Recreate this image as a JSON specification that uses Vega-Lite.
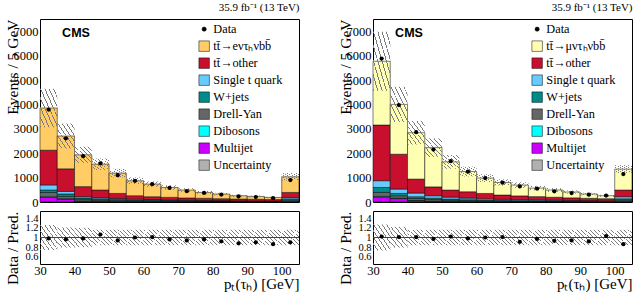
{
  "$schema": "https://vega.github.io/schema/vega-lite/v6.json",
  "bounds": "flush",
  "padding": {"left": 4, "top": 1, "right": 0, "bottom": 0},
  "background": "white",
  "columns": 2,
  "spacing": {"row": 9, "column": 74},
  "datasets": {
    "e": [
      {"lo":30,"hi":35,"mid":32.5,"mj":190,"vv":25,"dy":175,"wj":100,"st":210,"tto":1422,"sig":1729,"data":3786,"blo":3062,"bhi":4640,"ratio":0.98,"rlo":0.74,"rhi":1.26},
      {"lo":35,"hi":40,"mid":37.5,"mj":120,"vv":15,"dy":95,"wj":100,"st":105,"tto":925,"sig":1343,"data":2610,"blo":2189,"bhi":3217,"ratio":0.96,"rlo":0.79,"rhi":1.21},
      {"lo":40,"hi":45,"mid":42.5,"mj":35,"vv":10,"dy":65,"wj":55,"st":55,"tto":410,"sig":1303,"data":1880,"blo":1604,"bhi":2262,"ratio":0.98,"rlo":0.8,"rhi":1.2},
      {"lo":45,"hi":50,"mid":47.5,"mj":20,"vv":8,"dy":55,"wj":50,"st":47,"tto":310,"sig":1061,"data":1580,"blo":1318,"bhi":1784,"ratio":1.06,"rlo":0.84,"rhi":1.16},
      {"lo":50,"hi":55,"mid":52.5,"mj":15,"vv":7,"dy":45,"wj":40,"st":40,"tto":204,"sig":833,"data":1100,"blo":1006,"bhi":1362,"ratio":0.94,"rlo":0.84,"rhi":1.16},
      {"lo":55,"hi":60,"mid":57.5,"mj":10,"vv":6,"dy":35,"wj":35,"st":34,"tto":137,"sig":612,"data":866,"blo":739,"bhi":999,"ratio":1.0,"rlo":0.84,"rhi":1.16},
      {"lo":60,"hi":65,"mid":62.5,"mj":8,"vv":5,"dy":30,"wj":30,"st":27,"tto":116,"sig":518,"data":730,"blo":624,"bhi":844,"ratio":1.01,"rlo":0.84,"rhi":1.16},
      {"lo":65,"hi":70,"mid":67.5,"mj":6,"vv":5,"dy":25,"wj":25,"st":24,"tto":105,"sig":406,"data":575,"blo":507,"bhi":685,"ratio":0.96,"rlo":0.84,"rhi":1.16},
      {"lo":70,"hi":75,"mid":72.5,"mj":5,"vv":4,"dy":22,"wj":22,"st":22,"tto":90,"sig":325,"data":445,"blo":416,"bhi":564,"ratio":0.94,"rlo":0.84,"rhi":1.16},
      {"lo":75,"hi":80,"mid":77.5,"mj":4,"vv":4,"dy":19,"wj":19,"st":19,"tto":85,"sig":242,"data":372,"blo":333,"bhi":451,"ratio":0.96,"rlo":0.84,"rhi":1.16},
      {"lo":80,"hi":85,"mid":82.5,"mj":3,"vv":3,"dy":17,"wj":17,"st":18,"tto":77,"sig":192,"data":305,"blo":278,"bhi":376,"ratio":0.92,"rlo":0.84,"rhi":1.16},
      {"lo":85,"hi":90,"mid":87.5,"mj":3,"vv":3,"dy":15,"wj":14,"st":15,"tto":70,"sig":137,"data":228,"blo":218,"bhi":296,"ratio":0.88,"rlo":0.84,"rhi":1.16},
      {"lo":90,"hi":95,"mid":92.5,"mj":2,"vv":3,"dy":13,"wj":13,"st":14,"tto":65,"sig":119,"data":205,"blo":195,"bhi":263,"ratio":0.9,"rlo":0.84,"rhi":1.16},
      {"lo":95,"hi":100,"mid":97.5,"mj":2,"vv":2,"dy":12,"wj":12,"st":12,"tto":60,"sig":88,"data":158,"blo":160,"bhi":216,"ratio":0.86,"rlo":0.84,"rhi":1.16},
      {"lo":100,"hi":105,"mid":102.5,"mj":10,"vv":10,"dy":50,"wj":60,"st":58,"tto":204,"sig":641,"data":900,"blo":878,"bhi":1188,"ratio":0.9,"rlo":0.84,"rhi":1.16}
    ],
    "mu": [
      {"lo":30,"hi":35,"mid":32.5,"mj":200,"vv":30,"dy":162,"wj":204,"st":277,"tto":2282,"sig":2612,"data":5877,"blo":4556,"bhi":6978,"ratio":1.02,"rlo":0.73,"rhi":1.27},
      {"lo":35,"hi":40,"mid":37.5,"mj":140,"vv":15,"dy":102,"wj":94,"st":180,"tto":1428,"sig":2041,"data":3971,"blo":3280,"bhi":4720,"ratio":1.01,"rlo":0.79,"rhi":1.22},
      {"lo":40,"hi":45,"mid":42.5,"mj":50,"vv":12,"dy":80,"wj":75,"st":150,"tto":572,"sig":1902,"data":2860,"blo":2358,"bhi":3324,"ratio":1.01,"rlo":0.84,"rhi":1.16},
      {"lo":45,"hi":50,"mid":47.5,"mj":25,"vv":10,"dy":65,"wj":57,"st":100,"tto":363,"sig":1609,"data":2150,"blo":1850,"bhi":2608,"ratio":0.97,"rlo":0.84,"rhi":1.16},
      {"lo":50,"hi":55,"mid":52.5,"mj":15,"vv":8,"dy":50,"wj":47,"st":80,"tto":290,"sig":1155,"data":1673,"blo":1365,"bhi":1925,"ratio":1.02,"rlo":0.84,"rhi":1.16},
      {"lo":55,"hi":60,"mid":57.5,"mj":10,"vv":7,"dy":40,"wj":38,"st":65,"tto":260,"sig":829,"data":1240,"blo":1049,"bhi":1449,"ratio":0.98,"rlo":0.84,"rhi":1.16},
      {"lo":60,"hi":65,"mid":62.5,"mj":8,"vv":6,"dy":33,"wj":30,"st":53,"tto":221,"sig":629,"data":980,"blo":823,"bhi":1137,"ratio":1.0,"rlo":0.84,"rhi":1.16},
      {"lo":65,"hi":70,"mid":67.5,"mj":6,"vv":5,"dy":28,"wj":26,"st":45,"tto":176,"sig":514,"data":790,"blo":672,"bhi":928,"ratio":1.01,"rlo":0.84,"rhi":1.16},
      {"lo":70,"hi":75,"mid":72.5,"mj":5,"vv":4,"dy":24,"wj":22,"st":40,"tto":155,"sig":444,"data":637,"blo":583,"bhi":805,"ratio":0.91,"rlo":0.84,"rhi":1.16},
      {"lo":75,"hi":80,"mid":77.5,"mj":4,"vv":4,"dy":21,"wj":20,"st":36,"tto":135,"sig":351,"data":550,"blo":480,"bhi":662,"ratio":0.97,"rlo":0.84,"rhi":1.16},
      {"lo":80,"hi":85,"mid":82.5,"mj":3,"vv":3,"dy":19,"wj":18,"st":32,"tto":120,"sig":295,"data":440,"blo":412,"bhi":568,"ratio":0.93,"rlo":0.84,"rhi":1.16},
      {"lo":85,"hi":90,"mid":87.5,"mj":3,"vv":3,"dy":16,"wj":15,"st":28,"tto":105,"sig":238,"data":365,"blo":343,"bhi":473,"ratio":0.94,"rlo":0.84,"rhi":1.16},
      {"lo":90,"hi":95,"mid":92.5,"mj":2,"vv":3,"dy":14,"wj":14,"st":25,"tto":92,"sig":177,"data":300,"blo":275,"bhi":379,"ratio":0.92,"rlo":0.84,"rhi":1.16},
      {"lo":95,"hi":100,"mid":97.5,"mj":2,"vv":2,"dy":12,"wj":12,"st":22,"tto":85,"sig":122,"data":265,"blo":216,"bhi":298,"ratio":1.03,"rlo":0.84,"rhi":1.16},
      {"lo":100,"hi":105,"mid":102.5,"mj":10,"vv":10,"dy":55,"wj":55,"st":86,"tto":274,"sig":857,"data":1143,"blo":1185,"bhi":1509,"ratio":0.86,"rlo":0.84,"rhi":1.16}
    ]
  },
  "resolve": {"scale": {"color": "independent"}},
  "concat": [
    {
      "width": 259, "height": 183,
      "title": {"text": "35.9 fb⁻¹ (13 TeV)", "anchor": "end", "fontSize": 11, "font": "Liberation Serif", "fontWeight": "normal", "offset": 2, "color": "black"},
      "data": {"name": "e"},
      "resolve": {"axis": {"x": "independent", "y": "independent"}},
      "layer": [
        {
          "transform": [
            {"fold": ["mj","vv","dy","wj","st","tto","sig"], "as": ["proc","n"]},
            {"stack": "n", "groupby": ["lo"], "as": ["s0","s1"]}
          ],
          "mark": {"type": "rect", "stroke": "black", "strokeWidth": 0.5},
          "encoding": {
            "x": {"field": "lo", "type": "quantitative", "scale": {"domain": [30,105], "nice": false, "zero": false},
                  "axis": {"orient": "bottom", "values": [30,32,34,36,38,40,42,44,46,48,50,52,54,56,58,60,62,64,66,68,70,72,74,76,78,80,82,84,86,88,90,92,94,96,98,100,102,104], "labels": false, "title": null,
                           "encode": {"ticks": {"update": {"y2": {"signal": "datum.value % 10 === 0 ? -6 : -3"}}}}}},
            "x2": {"field": "hi"},
            "y": {"field": "s0", "type": "quantitative", "scale": {"domain": [0,7500], "nice": false},
                  "axis": {"orient": "left", "values": [0,200,400,600,800,1000,1200,1400,1600,1800,2000,2200,2400,2600,2800,3000,3200,3400,3600,3800,4000,4200,4400,4600,4800,5000,5200,5400,5600,5800,6000,6200,6400,6600,6800,7000,7200,7400],
                           "format": "d", "labelExpr": "datum.value % 1000 === 0 ? datum.label : ''", "labelOverlap": false, "labelPadding": 2,
                           "title": "Events / 5 GeV", "titleAnchor": "end", "titlePadding": -7,
                           "encode": {"ticks": {"update": {"x2": {"signal": "datum.value % 1000 === 0 ? 6 : 3"}}}}}},
            "y2": {"field": "s1"},
            "color": {"field": "proc", "type": "nominal",
                      "scale": {"domain": ["data","sig","tto","st","wj","dy","vv","mj","unc"], "range": ["black","#ffcc66","#c8102e","#66ccff","#008b8b","#666666","#00ffff","#cc00ff","#b0b0b0"]},
                      "legend": {"orient": "none", "legendX": 158, "legendY": 4, "title": null, "symbolType": "square", "symbolSize": 110, "symbolStrokeColor": "black", "symbolStrokeWidth": 0.5, "symbolOpacity": 1,
                                 "labelFont": "Liberation Serif", "labelFontSize": 12.3, "labelColor": "black", "rowPadding": 3, "labelOffset": 3, "padding": 0, "labelLimit": 200,
                                 "labelExpr": "datum.label === 'data' ? 'Data' : datum.label === 'sig' ? 'tt̄→eντₕνbb̄' : datum.label === 'tto' ? 'tt̄→other' : datum.label === 'st' ? 'Single t quark' : datum.label === 'wj' ? 'W+jets' : datum.label === 'dy' ? 'Drell-Yan' : datum.label === 'vv' ? 'Dibosons' : datum.label === 'mj' ? 'Multijet' : 'Uncertainty'",
                                 "encode": {"symbols": {"update": {
                                   "shape": {"signal": "datum.value === 'data' ? 'circle' : 'square'"},
                                   "size": {"signal": "datum.value === 'data' ? 18 : 110"}
                                 }}}}}
          }
        },
        {
          "mark": {"type": "rect", "fill": {"gradient": "linear", "x1": 0, "y1": 1, "x2": 1, "y2": 0, "stops": [
            {"offset": 0, "color": "#7a7a7a"}, {"offset": 0.028, "color": "#7a7a7a"}, {"offset": 0.028, "color": "rgba(255,255,255,0)"}, {"offset": 0.125, "color": "rgba(255,255,255,0)"},
            {"offset": 0.125, "color": "#7a7a7a"}, {"offset": 0.153, "color": "#7a7a7a"}, {"offset": 0.153, "color": "rgba(255,255,255,0)"}, {"offset": 0.25, "color": "rgba(255,255,255,0)"},
            {"offset": 0.25, "color": "#7a7a7a"}, {"offset": 0.278, "color": "#7a7a7a"}, {"offset": 0.278, "color": "rgba(255,255,255,0)"}, {"offset": 0.375, "color": "rgba(255,255,255,0)"},
            {"offset": 0.375, "color": "#7a7a7a"}, {"offset": 0.403, "color": "#7a7a7a"}, {"offset": 0.403, "color": "rgba(255,255,255,0)"}, {"offset": 0.5, "color": "rgba(255,255,255,0)"},
            {"offset": 0.5, "color": "#7a7a7a"}, {"offset": 0.528, "color": "#7a7a7a"}, {"offset": 0.528, "color": "rgba(255,255,255,0)"}, {"offset": 0.625, "color": "rgba(255,255,255,0)"},
            {"offset": 0.625, "color": "#7a7a7a"}, {"offset": 0.653, "color": "#7a7a7a"}, {"offset": 0.653, "color": "rgba(255,255,255,0)"}, {"offset": 0.75, "color": "rgba(255,255,255,0)"},
            {"offset": 0.75, "color": "#7a7a7a"}, {"offset": 0.778, "color": "#7a7a7a"}, {"offset": 0.778, "color": "rgba(255,255,255,0)"}, {"offset": 0.875, "color": "rgba(255,255,255,0)"},
            {"offset": 0.875, "color": "#7a7a7a"}, {"offset": 0.903, "color": "#7a7a7a"}, {"offset": 0.903, "color": "rgba(255,255,255,0)"}, {"offset": 1, "color": "rgba(255,255,255,0)"}]}},
          "encoding": {
            "x": {"field": "lo", "type": "quantitative",
                  "axis": {"orient": "top", "values": [30,32,34,36,38,40,42,44,46,48,50,52,54,56,58,60,62,64,66,68,70,72,74,76,78,80,82,84,86,88,90,92,94,96,98,100,102,104], "labels": false, "title": null,
                           "encode": {"ticks": {"update": {"y2": {"signal": "datum.value % 10 === 0 ? 6 : 3"}}}}}},
            "x2": {"field": "hi"},
            "y": {"field": "blo", "type": "quantitative",
                  "axis": {"orient": "right", "values": [0,200,400,600,800,1000,1200,1400,1600,1800,2000,2200,2400,2600,2800,3000,3200,3400,3600,3800,4000,4200,4400,4600,4800,5000,5200,5400,5600,5800,6000,6200,6400,6600,6800,7000,7200,7400], "labels": false, "title": null,
                           "encode": {"ticks": {"update": {"x2": {"signal": "datum.value % 1000 === 0 ? -6 : -3"}}}}}},
            "y2": {"field": "bhi"}
          }
        },
        {
          "mark": {"type": "circle", "size": 18, "color": "black", "opacity": 1},
          "encoding": {
            "x": {"field": "mid", "type": "quantitative", "axis": null},
            "y": {"field": "data", "type": "quantitative", "axis": null}
          }
        },
        {
          "data": {"values": [{}]},
          "mark": {"type": "text", "text": "CMS", "font": "Liberation Sans", "fontWeight": "bold", "fontSize": 12.5, "align": "left", "baseline": "middle", "color": "black"},
          "encoding": {
            "x": {"datum": 36.4, "type": "quantitative", "axis": null},
            "y": {"datum": 6926, "type": "quantitative", "axis": null}
          }
        }
      ]
    },
    {
      "width": 259, "height": 183,
      "title": {"text": "35.9 fb⁻¹ (13 TeV)", "anchor": "end", "fontSize": 11, "font": "Liberation Serif", "fontWeight": "normal", "offset": 2, "color": "black"},
      "data": {"name": "mu"},
      "resolve": {"axis": {"x": "independent", "y": "independent"}},
      "layer": [
        {
          "transform": [
            {"fold": ["mj","vv","dy","wj","st","tto","sig"], "as": ["proc","n"]},
            {"stack": "n", "groupby": ["lo"], "as": ["s0","s1"]}
          ],
          "mark": {"type": "rect", "stroke": "black", "strokeWidth": 0.5},
          "encoding": {
            "x": {"field": "lo", "type": "quantitative", "scale": {"domain": [30,105], "nice": false, "zero": false},
                  "axis": {"orient": "bottom", "values": [30,32,34,36,38,40,42,44,46,48,50,52,54,56,58,60,62,64,66,68,70,72,74,76,78,80,82,84,86,88,90,92,94,96,98,100,102,104], "labels": false, "title": null,
                           "encode": {"ticks": {"update": {"y2": {"signal": "datum.value % 10 === 0 ? -6 : -3"}}}}}},
            "x2": {"field": "hi"},
            "y": {"field": "s0", "type": "quantitative", "scale": {"domain": [0,7500], "nice": false},
                  "axis": {"orient": "left", "values": [0,200,400,600,800,1000,1200,1400,1600,1800,2000,2200,2400,2600,2800,3000,3200,3400,3600,3800,4000,4200,4400,4600,4800,5000,5200,5400,5600,5800,6000,6200,6400,6600,6800,7000,7200,7400],
                           "format": "d", "labelExpr": "datum.value % 1000 === 0 ? datum.label : ''", "labelOverlap": false, "labelPadding": 2,
                           "title": "Events / 5 GeV", "titleAnchor": "end", "titlePadding": -7,
                           "encode": {"ticks": {"update": {"x2": {"signal": "datum.value % 1000 === 0 ? 6 : 3"}}}}}},
            "y2": {"field": "s1"},
            "color": {"field": "proc", "type": "nominal",
                      "scale": {"domain": ["data","sig","tto","st","wj","dy","vv","mj","unc"], "range": ["black","#ffffb3","#c8102e","#66ccff","#008b8b","#666666","#00ffff","#cc00ff","#b0b0b0"]},
                      "legend": {"orient": "none", "legendX": 158, "legendY": 4, "title": null, "symbolType": "square", "symbolSize": 110, "symbolStrokeColor": "black", "symbolStrokeWidth": 0.5, "symbolOpacity": 1,
                                 "labelFont": "Liberation Serif", "labelFontSize": 12.3, "labelColor": "black", "rowPadding": 3, "labelOffset": 3, "padding": 0, "labelLimit": 200,
                                 "labelExpr": "datum.label === 'data' ? 'Data' : datum.label === 'sig' ? 'tt̄→μντₕνbb̄' : datum.label === 'tto' ? 'tt̄→other' : datum.label === 'st' ? 'Single t quark' : datum.label === 'wj' ? 'W+jets' : datum.label === 'dy' ? 'Drell-Yan' : datum.label === 'vv' ? 'Dibosons' : datum.label === 'mj' ? 'Multijet' : 'Uncertainty'",
                                 "encode": {"symbols": {"update": {
                                   "shape": {"signal": "datum.value === 'data' ? 'circle' : 'square'"},
                                   "size": {"signal": "datum.value === 'data' ? 18 : 110"}
                                 }}}}}
          }
        },
        {
          "mark": {"type": "rect", "fill": {"gradient": "linear", "x1": 0, "y1": 1, "x2": 1, "y2": 0, "stops": [
            {"offset": 0, "color": "#7a7a7a"}, {"offset": 0.028, "color": "#7a7a7a"}, {"offset": 0.028, "color": "rgba(255,255,255,0)"}, {"offset": 0.125, "color": "rgba(255,255,255,0)"},
            {"offset": 0.125, "color": "#7a7a7a"}, {"offset": 0.153, "color": "#7a7a7a"}, {"offset": 0.153, "color": "rgba(255,255,255,0)"}, {"offset": 0.25, "color": "rgba(255,255,255,0)"},
            {"offset": 0.25, "color": "#7a7a7a"}, {"offset": 0.278, "color": "#7a7a7a"}, {"offset": 0.278, "color": "rgba(255,255,255,0)"}, {"offset": 0.375, "color": "rgba(255,255,255,0)"},
            {"offset": 0.375, "color": "#7a7a7a"}, {"offset": 0.403, "color": "#7a7a7a"}, {"offset": 0.403, "color": "rgba(255,255,255,0)"}, {"offset": 0.5, "color": "rgba(255,255,255,0)"},
            {"offset": 0.5, "color": "#7a7a7a"}, {"offset": 0.528, "color": "#7a7a7a"}, {"offset": 0.528, "color": "rgba(255,255,255,0)"}, {"offset": 0.625, "color": "rgba(255,255,255,0)"},
            {"offset": 0.625, "color": "#7a7a7a"}, {"offset": 0.653, "color": "#7a7a7a"}, {"offset": 0.653, "color": "rgba(255,255,255,0)"}, {"offset": 0.75, "color": "rgba(255,255,255,0)"},
            {"offset": 0.75, "color": "#7a7a7a"}, {"offset": 0.778, "color": "#7a7a7a"}, {"offset": 0.778, "color": "rgba(255,255,255,0)"}, {"offset": 0.875, "color": "rgba(255,255,255,0)"},
            {"offset": 0.875, "color": "#7a7a7a"}, {"offset": 0.903, "color": "#7a7a7a"}, {"offset": 0.903, "color": "rgba(255,255,255,0)"}, {"offset": 1, "color": "rgba(255,255,255,0)"}]}},
          "encoding": {
            "x": {"field": "lo", "type": "quantitative",
                  "axis": {"orient": "top", "values": [30,32,34,36,38,40,42,44,46,48,50,52,54,56,58,60,62,64,66,68,70,72,74,76,78,80,82,84,86,88,90,92,94,96,98,100,102,104], "labels": false, "title": null,
                           "encode": {"ticks": {"update": {"y2": {"signal": "datum.value % 10 === 0 ? 6 : 3"}}}}}},
            "x2": {"field": "hi"},
            "y": {"field": "blo", "type": "quantitative",
                  "axis": {"orient": "right", "values": [0,200,400,600,800,1000,1200,1400,1600,1800,2000,2200,2400,2600,2800,3000,3200,3400,3600,3800,4000,4200,4400,4600,4800,5000,5200,5400,5600,5800,6000,6200,6400,6600,6800,7000,7200,7400], "labels": false, "title": null,
                           "encode": {"ticks": {"update": {"x2": {"signal": "datum.value % 1000 === 0 ? -6 : -3"}}}}}},
            "y2": {"field": "bhi"}
          }
        },
        {
          "mark": {"type": "circle", "size": 18, "color": "black", "opacity": 1},
          "encoding": {
            "x": {"field": "mid", "type": "quantitative", "axis": null},
            "y": {"field": "data", "type": "quantitative", "axis": null}
          }
        },
        {
          "data": {"values": [{}]},
          "mark": {"type": "text", "text": "CMS", "font": "Liberation Sans", "fontWeight": "bold", "fontSize": 12.5, "align": "left", "baseline": "middle", "color": "black"},
          "encoding": {
            "x": {"datum": 36.4, "type": "quantitative", "axis": null},
            "y": {"datum": 6926, "type": "quantitative", "axis": null}
          }
        }
      ]
    },
    {
      "width": 259, "height": 53,
      "data": {"name": "e"},
      "resolve": {"axis": {"x": "independent", "y": "independent"}},
      "layer": [
        {
          "mark": {"type": "rect", "fill": {"gradient": "linear", "x1": 0, "y1": 1, "x2": 1, "y2": 0, "stops": [
            {"offset": 0, "color": "#7a7a7a"}, {"offset": 0.028, "color": "#7a7a7a"}, {"offset": 0.028, "color": "rgba(255,255,255,0)"}, {"offset": 0.125, "color": "rgba(255,255,255,0)"},
            {"offset": 0.125, "color": "#7a7a7a"}, {"offset": 0.153, "color": "#7a7a7a"}, {"offset": 0.153, "color": "rgba(255,255,255,0)"}, {"offset": 0.25, "color": "rgba(255,255,255,0)"},
            {"offset": 0.25, "color": "#7a7a7a"}, {"offset": 0.278, "color": "#7a7a7a"}, {"offset": 0.278, "color": "rgba(255,255,255,0)"}, {"offset": 0.375, "color": "rgba(255,255,255,0)"},
            {"offset": 0.375, "color": "#7a7a7a"}, {"offset": 0.403, "color": "#7a7a7a"}, {"offset": 0.403, "color": "rgba(255,255,255,0)"}, {"offset": 0.5, "color": "rgba(255,255,255,0)"},
            {"offset": 0.5, "color": "#7a7a7a"}, {"offset": 0.528, "color": "#7a7a7a"}, {"offset": 0.528, "color": "rgba(255,255,255,0)"}, {"offset": 0.625, "color": "rgba(255,255,255,0)"},
            {"offset": 0.625, "color": "#7a7a7a"}, {"offset": 0.653, "color": "#7a7a7a"}, {"offset": 0.653, "color": "rgba(255,255,255,0)"}, {"offset": 0.75, "color": "rgba(255,255,255,0)"},
            {"offset": 0.75, "color": "#7a7a7a"}, {"offset": 0.778, "color": "#7a7a7a"}, {"offset": 0.778, "color": "rgba(255,255,255,0)"}, {"offset": 0.875, "color": "rgba(255,255,255,0)"},
            {"offset": 0.875, "color": "#7a7a7a"}, {"offset": 0.903, "color": "#7a7a7a"}, {"offset": 0.903, "color": "rgba(255,255,255,0)"}, {"offset": 1, "color": "rgba(255,255,255,0)"}]}},
          "encoding": {
            "x": {"field": "lo", "type": "quantitative", "scale": {"domain": [30,105], "nice": false, "zero": false},
                  "axis": {"orient": "top", "values": [30,32,34,36,38,40,42,44,46,48,50,52,54,56,58,60,62,64,66,68,70,72,74,76,78,80,82,84,86,88,90,92,94,96,98,100,102,104], "labels": false, "title": null,
                           "encode": {"ticks": {"update": {"y2": {"signal": "datum.value % 10 === 0 ? 5 : 2.5"}}}}}},
            "x2": {"field": "hi"},
            "y": {"field": "rlo", "type": "quantitative", "scale": {"domain": [0.45,1.55], "nice": false, "zero": false},
                  "axis": {"orient": "right", "values": [0.45,0.5,0.55,0.6,0.65,0.7,0.75,0.8,0.85,0.9,0.95,1,1.05,1.1,1.15,1.2,1.25,1.3,1.35,1.4,1.45,1.5,1.55], "labels": false, "title": null,
                           "encode": {"ticks": {"update": {"x2": {"signal": "abs(datum.value*5 - round(datum.value*5)) < 0.01 ? -5 : -2.5"}}}}}},
            "y2": {"field": "rhi"}
          }
        },
        {
          "data": {"values": [{}]},
          "mark": {"type": "rule", "color": "#444444", "strokeWidth": 1},
          "encoding": {"y": {"datum": 1, "type": "quantitative", "axis": null}}
        },
        {
          "mark": {"type": "circle", "size": 18, "color": "black", "opacity": 1},
          "encoding": {
            "x": {"field": "mid", "type": "quantitative",
                  "axis": {"orient": "bottom", "values": [30,32,34,36,38,40,42,44,46,48,50,52,54,56,58,60,62,64,66,68,70,72,74,76,78,80,82,84,86,88,90,92,94,96,98,100,102,104],
                           "format": "d", "labelExpr": "datum.value % 10 === 0 ? datum.label : ''", "labelFlush": false, "labelOverlap": false, "labelPadding": 0,
                           "title": "pₜ(τₕ) [GeV]", "titleAnchor": "end", "titlePadding": 0, "titleFontSize": 15,
                           "encode": {"ticks": {"update": {"y2": {"signal": "datum.value % 10 === 0 ? -5 : -2.5"}}}}}},
            "y": {"field": "ratio", "type": "quantitative",
                  "axis": {"orient": "left", "values": [0.45,0.5,0.55,0.6,0.65,0.7,0.75,0.8,0.85,0.9,0.95,1,1.05,1.1,1.15,1.2,1.25,1.3,1.35,1.4,1.45,1.5,1.55],
                           "format": ".1~f", "labelExpr": "(abs(datum.value*5 - round(datum.value*5)) < 0.01 && datum.value > 0.5 && datum.value < 1.45) ? datum.label : ''", "labelOverlap": false, "labelPadding": 2, "labelFontSize": 10.5,
                           "title": "Data / Pred.", "titleAnchor": "end", "titlePadding": 4,
                           "encode": {"ticks": {"update": {"x2": {"signal": "abs(datum.value*5 - round(datum.value*5)) < 0.01 ? 5 : 2.5"}}}}}}
          }
        }
      ]
    },
    {
      "width": 259, "height": 53,
      "data": {"name": "mu"},
      "resolve": {"axis": {"x": "independent", "y": "independent"}},
      "layer": [
        {
          "mark": {"type": "rect", "fill": {"gradient": "linear", "x1": 0, "y1": 1, "x2": 1, "y2": 0, "stops": [
            {"offset": 0, "color": "#7a7a7a"}, {"offset": 0.028, "color": "#7a7a7a"}, {"offset": 0.028, "color": "rgba(255,255,255,0)"}, {"offset": 0.125, "color": "rgba(255,255,255,0)"},
            {"offset": 0.125, "color": "#7a7a7a"}, {"offset": 0.153, "color": "#7a7a7a"}, {"offset": 0.153, "color": "rgba(255,255,255,0)"}, {"offset": 0.25, "color": "rgba(255,255,255,0)"},
            {"offset": 0.25, "color": "#7a7a7a"}, {"offset": 0.278, "color": "#7a7a7a"}, {"offset": 0.278, "color": "rgba(255,255,255,0)"}, {"offset": 0.375, "color": "rgba(255,255,255,0)"},
            {"offset": 0.375, "color": "#7a7a7a"}, {"offset": 0.403, "color": "#7a7a7a"}, {"offset": 0.403, "color": "rgba(255,255,255,0)"}, {"offset": 0.5, "color": "rgba(255,255,255,0)"},
            {"offset": 0.5, "color": "#7a7a7a"}, {"offset": 0.528, "color": "#7a7a7a"}, {"offset": 0.528, "color": "rgba(255,255,255,0)"}, {"offset": 0.625, "color": "rgba(255,255,255,0)"},
            {"offset": 0.625, "color": "#7a7a7a"}, {"offset": 0.653, "color": "#7a7a7a"}, {"offset": 0.653, "color": "rgba(255,255,255,0)"}, {"offset": 0.75, "color": "rgba(255,255,255,0)"},
            {"offset": 0.75, "color": "#7a7a7a"}, {"offset": 0.778, "color": "#7a7a7a"}, {"offset": 0.778, "color": "rgba(255,255,255,0)"}, {"offset": 0.875, "color": "rgba(255,255,255,0)"},
            {"offset": 0.875, "color": "#7a7a7a"}, {"offset": 0.903, "color": "#7a7a7a"}, {"offset": 0.903, "color": "rgba(255,255,255,0)"}, {"offset": 1, "color": "rgba(255,255,255,0)"}]}},
          "encoding": {
            "x": {"field": "lo", "type": "quantitative", "scale": {"domain": [30,105], "nice": false, "zero": false},
                  "axis": {"orient": "top", "values": [30,32,34,36,38,40,42,44,46,48,50,52,54,56,58,60,62,64,66,68,70,72,74,76,78,80,82,84,86,88,90,92,94,96,98,100,102,104], "labels": false, "title": null,
                           "encode": {"ticks": {"update": {"y2": {"signal": "datum.value % 10 === 0 ? 5 : 2.5"}}}}}},
            "x2": {"field": "hi"},
            "y": {"field": "rlo", "type": "quantitative", "scale": {"domain": [0.45,1.55], "nice": false, "zero": false},
                  "axis": {"orient": "right", "values": [0.45,0.5,0.55,0.6,0.65,0.7,0.75,0.8,0.85,0.9,0.95,1,1.05,1.1,1.15,1.2,1.25,1.3,1.35,1.4,1.45,1.5,1.55], "labels": false, "title": null,
                           "encode": {"ticks": {"update": {"x2": {"signal": "abs(datum.value*5 - round(datum.value*5)) < 0.01 ? -5 : -2.5"}}}}}},
            "y2": {"field": "rhi"}
          }
        },
        {
          "data": {"values": [{}]},
          "mark": {"type": "rule", "color": "#444444", "strokeWidth": 1},
          "encoding": {"y": {"datum": 1, "type": "quantitative", "axis": null}}
        },
        {
          "mark": {"type": "circle", "size": 18, "color": "black", "opacity": 1},
          "encoding": {
            "x": {"field": "mid", "type": "quantitative",
                  "axis": {"orient": "bottom", "values": [30,32,34,36,38,40,42,44,46,48,50,52,54,56,58,60,62,64,66,68,70,72,74,76,78,80,82,84,86,88,90,92,94,96,98,100,102,104],
                           "format": "d", "labelExpr": "datum.value % 10 === 0 ? datum.label : ''", "labelFlush": false, "labelOverlap": false, "labelPadding": 0,
                           "title": "pₜ(τₕ) [GeV]", "titleAnchor": "end", "titlePadding": 0, "titleFontSize": 15,
                           "encode": {"ticks": {"update": {"y2": {"signal": "datum.value % 10 === 0 ? -5 : -2.5"}}}}}},
            "y": {"field": "ratio", "type": "quantitative",
                  "axis": {"orient": "left", "values": [0.45,0.5,0.55,0.6,0.65,0.7,0.75,0.8,0.85,0.9,0.95,1,1.05,1.1,1.15,1.2,1.25,1.3,1.35,1.4,1.45,1.5,1.55],
                           "format": ".1~f", "labelExpr": "(abs(datum.value*5 - round(datum.value*5)) < 0.01 && datum.value > 0.5 && datum.value < 1.45) ? datum.label : ''", "labelOverlap": false, "labelPadding": 2, "labelFontSize": 10.5,
                           "title": "Data / Pred.", "titleAnchor": "end", "titlePadding": 4,
                           "encode": {"ticks": {"update": {"x2": {"signal": "abs(datum.value*5 - round(datum.value*5)) < 0.01 ? 5 : 2.5"}}}}}}
          }
        }
      ]
    }
  ],
  "config": {
    "view": {"stroke": "black", "strokeWidth": 1},
    "font": "Liberation Serif",
    "axis": {"domain": false, "grid": false, "tickSize": 0, "tickColor": "black", "tickWidth": 1,
             "labelFont": "Liberation Serif", "labelFontSize": 12.5, "labelColor": "black",
             "titleFont": "Liberation Serif", "titleFontSize": 15.5, "titleFontWeight": "normal", "titleColor": "black"}
  }
}
